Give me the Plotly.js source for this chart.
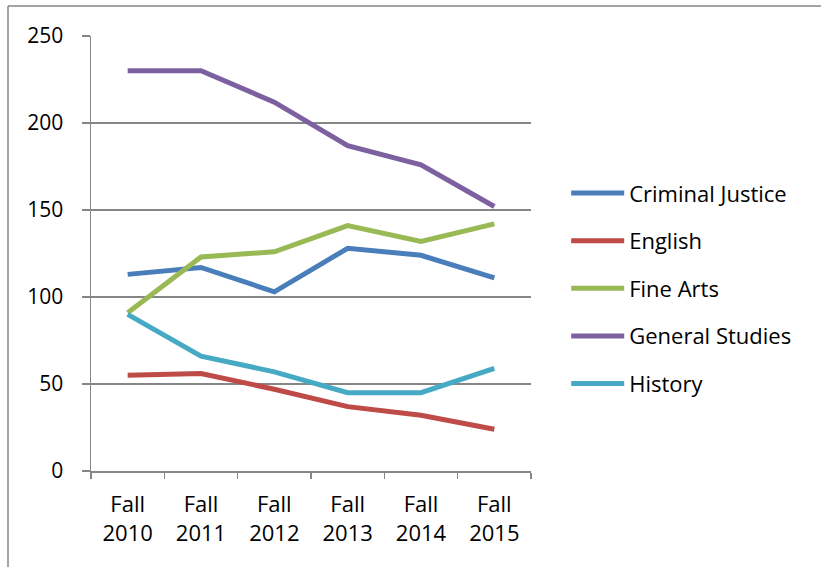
<!DOCTYPE html>
<html>
<head>
<meta charset="utf-8">
<script src="https://cdn.plot.ly/plotly-3.0.1.min.js"></script>
<style>html,body{margin:0;padding:0;background:#fff;}#chart{width:821px;height:567px;}</style>
</head>
<body>
<div id="chart"></div>
<script>
const categories = ["Fall<br>2010", "Fall<br>2011", "Fall<br>2012", "Fall<br>2013", "Fall<br>2014", "Fall<br>2015"];
const criminalJustice = [113, 117, 103, 128, 124, 111];
const english = [55, 56, 47, 37, 32, 24];
const fineArts = [91, 123, 126, 141, 132, 142];
const generalStudies = [230, 230, 212, 187, 176, 152];
const history = [90, 66, 57, 45, 45, 59];
const seriesNames = ["Criminal Justice", "English", "Fine Arts", "General Studies", "History"];
const seriesColors = ["#4A7EBB", "#BE4B48", "#98B954", "#7D60A0", "#46AAC5"];
const seriesValues = [criminalJustice, english, fineArts, generalStudies, history];
const yTicks = [0, 50, 100, 150, 200, 250];

const font = "Open Sans, Liberation Sans, sans-serif";
const traces = seriesValues.map((vals, i) => ({
  type: "scatter",
  mode: "lines",
  x: categories,
  y: vals,
  name: seriesNames[i],
  legendgroup: "g" + i,
  line: {color: seriesColors[i], width: 5}
}));

const layout = {
  width: 821, height: 567,
  margin: {l: 91, r: 290, t: 36, b: 96},
  paper_bgcolor: "#fff", plot_bgcolor: "#fff",
  font: {family: font, size: 21, color: "#000"},
  showlegend: true,
  legend: {
    x: 1.08, y: 0.42, xanchor: "left", yanchor: "middle",
    font: {family: font, size: 22, color: "#000"},
    tracegroupgap: 16, itemwidth: 53, bgcolor: "rgba(0,0,0,0)"
  },
  xaxis: {
    type: "category", range: [-0.5, 5.5],
    showgrid: false, zeroline: false,
    showline: true, linecolor: "#868686", linewidth: 1.5,
    ticks: "outside", ticklen: 6, tickcolor: "#868686", tickwidth: 1.5,
    tickson: "boundaries",
    tickfont: {family: font, size: 22, color: "#000"},
    ticklabelstandoff: 13,
    fixedrange: true
  },
  yaxis: {
    range: [0, 250], tickvals: yTicks, ticktext: yTicks.map(String),
    showgrid: true, gridcolor: "#868686", gridwidth: 1.5,
    zeroline: false, showline: true, linecolor: "#868686", linewidth: 1.5,
    ticks: "outside", ticklen: 8, tickcolor: "#868686", tickwidth: 1.5,
    tickfont: {family: font, size: 21, color: "#000"},
    ticklabelstandoff: 14,
    fixedrange: true
  },
  shapes: [
    {type: "line", xref: "paper", yref: "paper", x0: -83/440, x1: 730/440, y0: 465/435, y1: 465/435, line: {color: "#868686", width: 1.5}},
    {type: "line", xref: "paper", yref: "paper", x0: -83/440, x1: -83/440, y0: 465/435, y1: -96/435, line: {color: "#868686", width: 1.5}}
  ]
};

Plotly.newPlot("chart", traces, layout, {displayModeBar: false, staticPlot: true});
</script>
</body>
</html>
